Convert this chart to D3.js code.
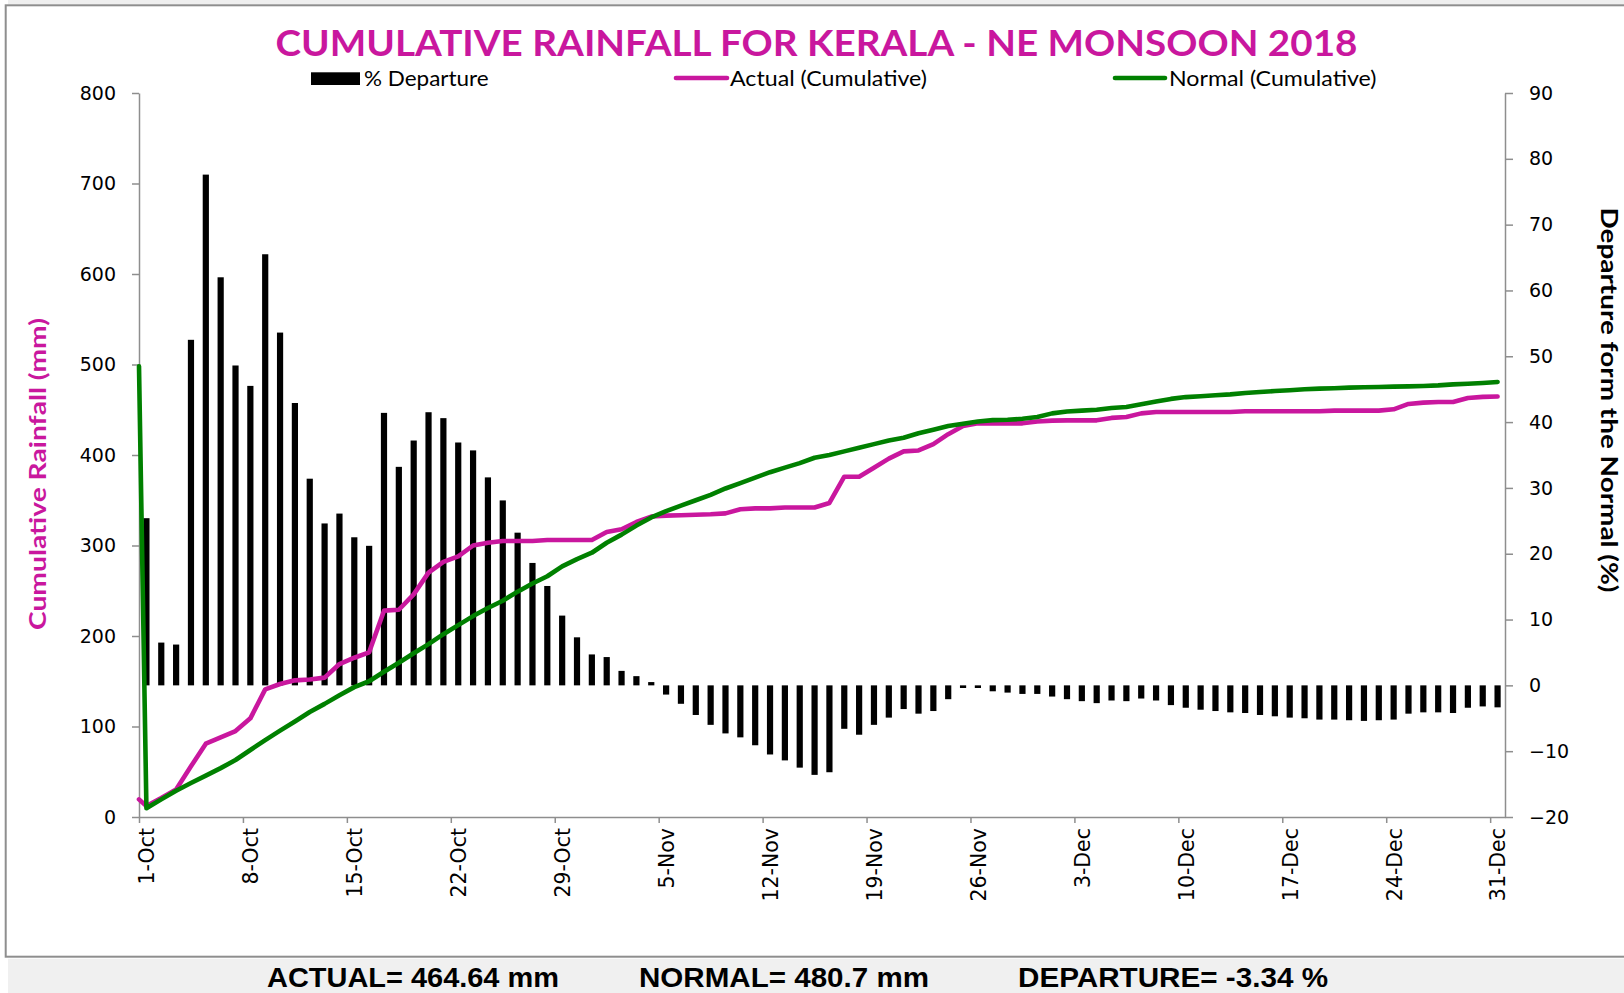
<!DOCTYPE html>
<html>
<head>
<meta charset="utf-8">
<script src="https://cdn.jsdelivr.net/npm/d3@7"></script>
<style>
  body { margin: 0; background: #fff; }
  svg { display: block; }
</style>
</head>
<body>
<svg id="chart" width="1624" height="993"></svg>
<script>
// Kerala NE monsoon 2018 - cumulative rainfall (mm) and daily % departure

// x labels shown on the axis (every 7th day)
var tickLabels = ["1-Oct", "8-Oct", "15-Oct", "22-Oct", "29-Oct", "5-Nov", "12-Nov",
  "19-Nov", "26-Nov", "3-Dec", "10-Dec", "17-Dec", "24-Dec", "31-Dec"];

// % departure, one per day 1-Oct .. 31-Dec
var departure = [25.4, 6.5, 6.2, 52.5, 77.6, 62.0, 48.6, 45.5, 65.5, 53.6,
  42.9, 31.4, 24.6, 26.1, 22.5, 21.2, 41.4, 33.2, 37.2, 41.5,
  40.6, 36.9, 35.7, 31.6, 28.1, 23.2, 18.6, 15.1, 10.6, 7.3,
  4.7, 4.3, 2.2, 1.4, 0.5, -1.4, -2.8, -4.5, -6.0, -7.3,
  -7.9, -9.1, -10.5, -11.4, -12.5, -13.6, -13.2, -6.6, -7.5, -6.0,
  -4.9, -3.6, -4.3, -3.9, -2.1, -0.4, -0.4, -0.9, -1.1, -1.3,
  -1.3, -1.7, -2.1, -2.4, -2.7, -2.3, -2.4, -2.0, -2.3, -3.0,
  -3.4, -3.7, -3.9, -4.1, -4.2, -4.5, -4.7, -4.9, -5.0, -5.2,
  -5.2, -5.3, -5.4, -5.3, -5.2, -4.3, -4.1, -4.1, -4.2, -3.4,
  -3.2, -3.34];

// actual cumulative rainfall (mm)
var actual = [12, 21, 30.5, 56, 81, 88, 95, 109, 141, 147,
  151, 152, 154, 169, 176, 182, 228, 229, 246, 270,
  282, 288, 300, 303, 305, 305, 305, 306, 306, 306,
  306, 315, 318, 326, 332, 333, 333.5, 334, 334.5, 335.5,
  340, 341, 341, 342, 342, 342, 347, 376, 376, 386,
  396, 404, 405, 412, 423, 432, 435, 435, 435, 435,
  437, 438, 438.3, 438.3, 438.3, 441, 442, 446, 447.5, 447.5,
  447.5, 447.5, 447.5, 447.5, 448.3, 448.3, 448.3, 448.3, 448.3, 448.3,
  449, 449, 449, 449, 450.5, 456.4, 457.9, 458.6, 458.6, 463,
  464.2, 464.64];

// normal cumulative rainfall (mm)
var normal = [9.6, 19.5, 29, 37.5, 45.7, 54, 63, 74, 85, 95.5,
  105.5, 116, 125, 134.5, 143.5, 150, 160.5, 170.5, 181, 191,
  202, 212, 222, 231, 239, 249, 258, 266, 277, 285,
  292, 303, 312, 322, 331, 338, 344, 350, 356, 363,
  369, 375, 381, 386, 391, 397, 400, 404, 408, 412,
  416, 419, 424, 428, 432, 434.5, 437, 438.5, 439, 440,
  442, 446, 448, 449, 450, 452, 453, 456, 459, 462,
  464, 465, 466, 467, 468.5, 469.6, 470.7, 471.5, 472.6, 473.3,
  473.7, 474.4, 474.8, 475.1, 475.5, 475.8, 476.2, 476.9, 478, 478.8,
  479.6, 480.7];

// the sheet's lines begin at the axis edge with a leading value
var leadActual = 19.5;
var leadNormal = 498;

var leftTicks = [0, 100, 200, 300, 400, 500, 600, 700, 800];
var rightTicks = [-20, -10, 0, 10, 20, 30, 40, 50, 60, 70, 80, 90];

var summary = ["ACTUAL= 464.64 mm", "NORMAL= 480.7 mm", "DEPARTURE= -3.34 %"];

var magenta = "#c9179e";
var green = "#008000";
var axisGrey = "#8e8e8e";

var days = d3.timeDay.range(new Date(2018, 9, 1), new Date(2019, 0, 1));
var fmt = d3.timeFormat("%-d-%b");

var plot = {left: 139, right: 1505, top: 93, bottom: 817};

var svg = d3.select("#chart");

// page frame
svg.append("rect").attr("x", 8).attr("y", 0).attr("width", 1616).attr("height", 4.5).attr("fill", "#efefef");
svg.append("rect")
  .attr("x", 5.7).attr("y", 5.3)
  .attr("width", 1640).attr("height", 951.4)
  .attr("fill", "#fff")
  .attr("stroke", axisGrey)
  .attr("stroke-width", 2);
svg.append("rect").attr("x", 8).attr("y", 958.7).attr("width", 1616).attr("height", 40).attr("fill", "#f0f0f0");

// scales
var x = d3.scaleLinear()
  .domain([-0.5, days.length - 0.5])
  .range([plot.left, plot.right]);

var yLeft = d3.scaleLinear()
  .domain([0, 800])
  .range([plot.bottom, plot.top]);

var yRight = d3.scaleLinear()
  .domain([-20, 90])
  .range([plot.bottom, plot.top]);

var barWidth = 6.2;

// departure bars (secondary axis)
svg.append("g")
  .selectAll("rect")
  .data(departure)
  .join("rect")
  .attr("x", function(d, i) { return x(i) - barWidth / 2; })
  .attr("y", function(d) { return yRight(Math.max(0, d)); })
  .attr("width", barWidth)
  .attr("height", function(d) { return Math.abs(yRight(d) - yRight(0)); })
  .attr("fill", "#000");

// axes
function styleAxis(g) {
  g.select(".domain").attr("stroke", axisGrey).attr("stroke-width", 1.5);
  g.selectAll(".tick line").attr("stroke", axisGrey).attr("stroke-width", 1.5);
  g.selectAll("text")
    .attr("fill", "#000")
    .style("font-family", "'DejaVu Sans', Verdana, sans-serif")
    .style("font-size", "19px");
}

svg.append("g")
  .attr("transform", "translate(" + plot.left + ",0)")
  .call(d3.axisLeft(yLeft).tickValues(leftTicks).tickSize(7).tickSizeOuter(0).tickPadding(16))
  .call(styleAxis);

svg.append("g")
  .attr("transform", "translate(" + plot.right + ",0)")
  .call(d3.axisRight(yRight).tickValues(rightTicks).tickSize(8).tickSizeOuter(0).tickPadding(16))
  .call(styleAxis);

// bottom axis: marks at category edges, labels at category centres
var labelIdx = [];
days.forEach(function(d, i) {
  if (tickLabels.indexOf(fmt(d)) >= 0) labelIdx.push(i);
});

svg.append("g")
  .attr("transform", "translate(0," + plot.bottom + ")")
  .call(d3.axisBottom(x)
    .tickValues(labelIdx.map(function(i) { return i - 0.5; }))
    .tickSize(6).tickSizeOuter(0).tickFormat(""))
  .call(styleAxis);

svg.append("g")
  .attr("transform", "translate(0," + plot.bottom + ")")
  .call(d3.axisBottom(x)
    .tickValues(labelIdx)
    .tickSize(0)
    .tickFormat(function(i) { return fmt(days[i]); }))
  .call(styleAxis)
  .call(function(g) {
    g.select(".domain").remove();
    g.selectAll("text")
      .style("font-size", "20.5px")
      .attr("transform", "rotate(-90)")
      .attr("x", -11)
      .attr("y", 0)
      .attr("dy", "0.36em")
      .style("text-anchor", "end");
  });

// cumulative lines
function series(lead, vals) {
  return [{i: -0.5, v: lead}].concat(vals.map(function(v, i) { return {i: i, v: v}; }));
}

var line = d3.line()
  .x(function(d) { return x(d.i); })
  .y(function(d) { return yLeft(d.v); });

svg.append("path")
  .datum(series(leadActual, actual))
  .attr("d", line)
  .attr("fill", "none")
  .attr("stroke", magenta)
  .attr("stroke-width", 4.6)
  .attr("stroke-linejoin", "round")
  .attr("stroke-linecap", "round");

svg.append("path")
  .datum(series(leadNormal, normal))
  .attr("d", line)
  .attr("fill", "none")
  .attr("stroke", green)
  .attr("stroke-width", 4.6)
  .attr("stroke-linejoin", "round")
  .attr("stroke-linecap", "round");

// title
svg.append("text")
  .attr("x", 275.5).attr("y", 56)
  .attr("textLength", 1082).attr("lengthAdjust", "spacingAndGlyphs")
  .style("font-family", "Lato, 'Open Sans', sans-serif")
  .style("font-weight", 700)
  .style("font-size", "37px")
  .attr("fill", magenta)
  .text("CUMULATIVE RAINFALL FOR KERALA - NE MONSOON 2018");

// legend
var legend = svg.append("g")
  .style("font-family", "Lato, 'Open Sans', sans-serif")
  .style("font-size", "21.5px");

legend.append("rect").attr("x", 311).attr("y", 72.3).attr("width", 49).attr("height", 12.7).attr("fill", "#000");
legend.append("text").attr("x", 364).attr("y", 86)
  .attr("textLength", 124.7).attr("lengthAdjust", "spacingAndGlyphs").text("% Departure");

legend.append("line").attr("x1", 676).attr("x2", 727).attr("y1", 78).attr("y2", 78)
  .attr("stroke", magenta).attr("stroke-width", 4.6).attr("stroke-linecap", "round");
legend.append("text").attr("x", 730).attr("y", 86)
  .attr("textLength", 197).attr("lengthAdjust", "spacingAndGlyphs").text("Actual (Cumulative)");

legend.append("line").attr("x1", 1115).attr("x2", 1165).attr("y1", 78).attr("y2", 78)
  .attr("stroke", green).attr("stroke-width", 4.6).attr("stroke-linecap", "round");
legend.append("text").attr("x", 1169).attr("y", 86)
  .attr("textLength", 207.5).attr("lengthAdjust", "spacingAndGlyphs").text("Normal (Cumulative)");

// axis titles
svg.append("text")
  .attr("transform", "translate(46,474) rotate(-90)")
  .attr("text-anchor", "middle")
  .attr("textLength", 312).attr("lengthAdjust", "spacingAndGlyphs")
  .style("font-family", "Lato, 'Open Sans', sans-serif")
  .style("font-weight", 700)
  .style("font-size", "23.5px")
  .attr("fill", magenta)
  .text("Cumulative Rainfall (mm)");

svg.append("text")
  .attr("transform", "translate(1601,400) rotate(90)")
  .attr("text-anchor", "middle")
  .attr("textLength", 385).attr("lengthAdjust", "spacingAndGlyphs")
  .style("font-family", "Lato, 'Open Sans', sans-serif")
  .style("font-weight", 700)
  .style("font-size", "23.5px")
  .attr("fill", "#000")
  .text("Departure form the Normal (%)");

// summary strip
var summaryX = [267, 639, 1018];
var summaryW = [292, 290, 310];
svg.append("g")
  .selectAll("text")
  .data(summary)
  .join("text")
  .attr("x", function(d, i) { return summaryX[i]; })
  .attr("y", 987)
  .attr("textLength", function(d, i) { return summaryW[i]; })
  .attr("lengthAdjust", "spacingAndGlyphs")
  .style("font-family", "'Liberation Sans', Arial, sans-serif")
  .style("font-weight", 700)
  .style("font-size", "27px")
  .attr("fill", "#000")
  .text(function(d) { return d; });
</script>
</body>
</html>
